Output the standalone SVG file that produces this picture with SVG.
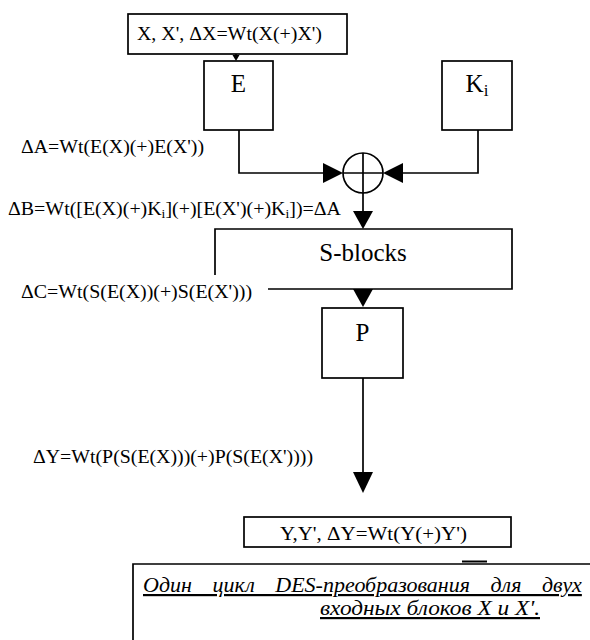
<svg xmlns="http://www.w3.org/2000/svg" width="590" height="640" viewBox="0 0 590 640">
<style>
.box{fill:#fff;stroke:#000;stroke-width:1.7}
.ln{fill:none;stroke:#000;stroke-width:1.7}
.ah{fill:#000;stroke:none}
text{font-family:"Times New Roman","Liberation Serif",Tinos,"DejaVu Serif",serif;fill:#000}
.lbl{font-size:19px}
.big{font-size:25px;text-anchor:middle}
.cap{font-size:22px;font-style:italic;text-decoration:underline}
</style>
<rect width="590" height="640" fill="#fff"/>
<g id="connectors">
<line class="ln" x1="236" y1="54" x2="236" y2="56"/>
<polygon class="ah" points="232.5,55 239.5,55 236,61"/>
<polyline class="ln" points="239,130 239,173 325,173"/>
<polygon class="ah" points="323,163 343,173 323,183"/>
<polyline class="ln" points="478,130 478,173 401,173"/>
<polygon class="ah" points="403,163 383,173 403,183"/>
<line class="ln" x1="363" y1="193" x2="363" y2="212"/>
<polygon class="ah" points="353,211 373,211 363,229"/>
<polygon class="ah" points="353,289 373,289 363,307"/>
<line class="ln" x1="363" y1="378" x2="363" y2="474"/>
<polygon class="ah" points="353,472 373,472 363,493"/>
</g>
<g id="input">
<rect class="box" x="128" y="14" width="219" height="40"/>
<text class="lbl" x="137" y="40" textLength="185" lengthAdjust="spacingAndGlyphs">X, X', ΔX=Wt(X(+)X')</text>
</g>
<g id="E">
<rect class="box" x="204" y="61" width="69" height="69"/>
<text class="big" x="238.5" y="92">E</text>
</g>
<g id="Ki">
<rect class="box" x="442" y="61" width="70" height="69"/>
<text class="big" x="477" y="92">K<tspan font-size="17" dy="4">i</tspan></text>
</g>
<g id="xor">
<circle cx="363" cy="173" r="20" fill="#fff" stroke="#000" stroke-width="1.7"/>
<line class="ln" x1="343" y1="173" x2="383" y2="173"/>
<line class="ln" x1="363" y1="153" x2="363" y2="193"/>
</g>
<g id="sblocks">
<path class="ln" d="M215,275 V229 H512 V289 H268"/>
<text class="big" x="363" y="261">S-blocks</text>
</g>
<g id="P">
<rect class="box" x="322" y="308" width="81" height="70"/>
<text class="big" x="362.5" y="341">P</text>
</g>
<g id="output">
<rect class="box" x="244" y="517" width="267" height="30"/>
<text class="lbl" x="280" y="540" textLength="187" lengthAdjust="spacingAndGlyphs">Y,Y', ΔY=Wt(Y(+)Y')</text>
</g>
<g id="labels">
<text class="lbl" x="21" y="153" textLength="183" lengthAdjust="spacingAndGlyphs">ΔA=Wt(E(X)(+)E(X'))</text>
<text class="lbl" x="8" y="215" textLength="333" lengthAdjust="spacingAndGlyphs">ΔB=Wt([E(X)(+)K<tspan font-size="13" dy="3">i</tspan><tspan dy="-3">](+)[E(X')(+)K</tspan><tspan font-size="13" dy="3">i</tspan><tspan dy="-3">])=ΔA</tspan></text>
<text class="lbl" x="21" y="298" textLength="231" lengthAdjust="spacingAndGlyphs">ΔC=Wt(S(E(X))(+)S(E(X')))</text>
<text class="lbl" x="33" y="463" textLength="280" lengthAdjust="spacingAndGlyphs">ΔY=Wt(P(S(E(X)))(+)P(S(E(X'))))</text>
</g>
<g id="caption">
<path class="ln" d="M133,640 V564 H590"/>
<line x1="462" y1="561.5" x2="487" y2="561.5" stroke="#000" stroke-width="2"/>
<text class="cap" x="143" y="592" word-spacing="15">Один цикл DES-преобразования для двух</text>
<text class="cap" x="320" y="615" textLength="220" lengthAdjust="spacingAndGlyphs">входных блоков X и X'.</text>
</g>
</svg>
